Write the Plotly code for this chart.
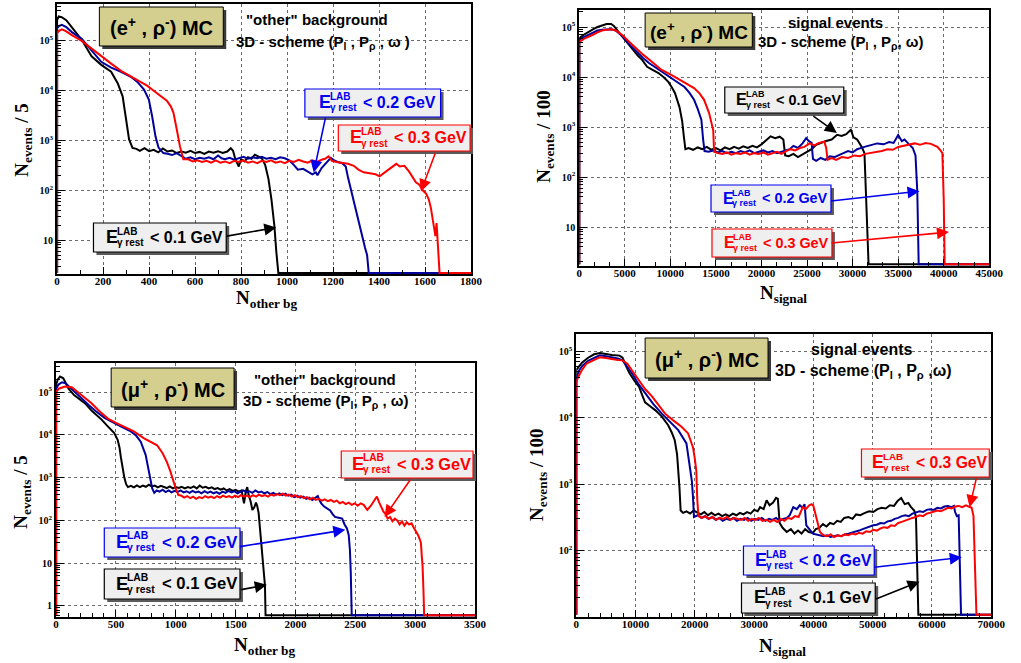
import math
import plotly.graph_objects as go

W, H = 1021, 663
SANS = "Liberation Sans"
SERIF = "Liberation Serif"

C_BLACK = "#000000"
C_BLUE = "#00009a"
C_RED = "#ff0000"
L_BLUE = "#0000ee"

# ---------------- (e+, rho-) "other" background, N_events / 5 ----------------
ebg_x_01 = [0, 0, 7, 20, 40, 64, 107, 150, 192, 235, 264, 285, 299, 313, 328, 345, 360, 380, 400, 420,
            440, 460, 480, 500, 520, 540, 560, 580, 600, 620, 640, 660, 680, 700, 720, 740, 755, 765, 775, 790,
            800, 815, 830, 845, 860, 875, 890, 905, 919, 932, 945, 953, 962, 1800]
ebg_n_01 = [2.2, 2.6e5, 3.1e5, 3.0e5, 2.6e5, 1.9e5, 1.05e5, 4.9e4, 3.3e4, 2.4e4, 1.4e4, 7.7e3, 3.1e3, 1.05e3, 710, 680, 620, 700, 610, 650,
            580, 690, 600, 630, 560, 600, 570, 620, 560, 590, 540, 600, 570, 610, 560, 600, 700, 620, 420, 300,
            420, 380, 460, 430, 520, 470, 440, 320, 170, 66, 19, 6, 2.2, 2.2]

ebg_x_02 = [0, 0, 10, 21, 40, 64, 107, 150, 192, 235, 278, 321, 349, 378, 399, 413, 428, 441, 462, 480,
            500, 520, 545, 560, 580, 600, 620, 640, 660, 680, 700, 715, 730, 750, 770, 790, 810, 830, 850, 870,
            890, 910, 930, 950, 970, 990, 1010, 1030, 1047, 1070, 1090, 1110, 1125, 1132, 1150, 1170, 1190, 1205, 1220, 1240,
            1255, 1265, 1274, 1285, 1297, 1308, 1318, 1328, 1339, 1348, 1355, 1800]
ebg_n_02 = [2.2, 1.8e5, 2.0e5, 2.1e5, 1.9e5, 1.5e5, 1.1e5, 6.5e4, 3.8e4, 2.9e4, 2.4e4, 1.9e4, 1.5e4, 1.05e4, 6.6e3, 3.1e3, 1.2e3, 720, 560, 540,
            510, 560, 470, 430, 460, 420, 450, 430, 460, 420, 500, 440, 420, 450, 410, 440, 470, 430, 460, 440,
            470, 430, 450, 420, 460, 440, 400, 320, 260, 270, 240, 210, 230, 200, 280, 360, 450, 400, 370, 350,
            300, 180, 120, 75, 48, 30, 19, 12, 7, 5, 2.2, 2.2]

ebg_x_03 = [0, 0, 10, 21, 40, 64, 107, 150, 192, 235, 278, 321, 363, 393, 420, 449, 477, 495, 506, 520,
            534, 549, 570, 590, 610, 630, 650, 670, 690, 710, 730, 750, 770, 790, 810, 830, 850, 870, 890, 910,
            930, 950, 970, 990, 1010, 1030, 1050, 1070, 1090, 1110, 1130, 1150, 1165, 1180, 1195, 1215, 1240, 1265, 1290, 1310,
            1333, 1360, 1385, 1402, 1420, 1440, 1460, 1475, 1490, 1510, 1530, 1545, 1560, 1575, 1590, 1605, 1616, 1625, 1632, 1640,
            1645, 1650, 1655, 1660, 1663, 1800]
ebg_n_03 = [2.2, 1.45e5, 1.6e5, 1.7e5, 1.55e5, 1.3e5, 1.0e5, 7e4, 4.8e4, 3.5e4, 2.5e4, 1.9e4, 1.5e4, 1.25e4, 1e4, 8e3, 6.3e3, 4.8e3, 3.6e3, 1.7e3,
            770, 420, 420, 380, 400, 370, 390, 360, 400, 360, 380, 350, 390, 370, 400, 360, 380, 350, 390, 370,
            400, 360, 380, 350, 390, 370, 410, 380, 360, 400, 370, 410, 430, 480, 390, 370, 360, 340, 310, 260,
            230, 220, 210, 190, 220, 260, 300, 340, 300, 310, 240, 190, 145, 130, 100, 85, 66, 45, 30, 16,
            12, 22, 8, 5, 2.2, 2.2]

# ---------------- (e+, rho-) signal events, N_events / 100 ----------------
esig_x_01 = [0, 0, 500, 1000, 1500, 2000, 2500, 3000, 3500, 3800, 4200, 4750, 5300, 5830, 6400, 6900, 7450, 8000, 8700, 9300,
             9800, 10200, 10500, 11000, 11300, 11500, 11650, 12000, 12500, 13000, 13500, 14000, 14500, 15000, 15500, 16000, 16500, 17000, 17500, 18000,
             18500, 19000, 19500, 20000, 20600, 21000, 21500, 22000, 22400, 22600, 23000, 23500, 24000, 24500, 25000, 25500, 26000, 26500, 27000, 27700,
             28300, 28800, 29300, 29800, 30100, 30500, 31000, 31300, 31450, 31600, 31750, 45000]
esig_n_01 = [1.8, 6e4, 7e4, 8e4, 9e4, 1e5, 1.08e5, 1.15e5, 1.15e5, 1.05e5, 8.5e4, 6.3e4, 4.8e4, 3.5e4, 2.7e4, 2.2e4, 1.6e4, 1.4e4, 1.2e4, 9.8e3,
             7.9e3, 6e3, 4.8e3, 2.5e3, 1.3e3, 600, 360, 380, 350, 390, 360, 400, 350, 380, 340, 390, 360, 400, 370, 410,
             380, 420, 390, 450, 560, 650, 600, 640, 560, 270, 260, 290, 250, 280, 310, 360, 440, 480, 520, 560,
             700, 660, 720, 880, 620, 560, 400, 300, 60, 10, 1.8, 1.8]

esig_x_02 = [0, 0, 500, 1000, 1500, 2000, 2500, 3000, 3500, 4000, 4750, 5500, 6300, 7000, 7650, 8700, 9400, 10100, 10800, 11550,
             12100, 12600, 13000, 13400, 13600, 13750, 14200, 14700, 15200, 15700, 16200, 16700, 17200, 17700, 18200, 18700, 19200, 19700, 20200, 20700,
             21200, 21700, 22200, 22700, 23100, 23500, 24000, 24500, 24900, 25200, 25500, 25650, 26000, 26500, 27000, 27500, 28000, 28800, 29500, 30000,
             30500, 31300, 32000, 32700, 33400, 34000, 34500, 35000, 35400, 35700, 36200, 36600, 36900, 37100, 37250, 45000]
esig_n_02 = [1.8, 5.5e4, 6.3e4, 7e4, 7.8e4, 8.5e4, 8.8e4, 9e4, 9e4, 8.5e4, 6.5e4, 4.5e4, 3.2e4, 2.4e4, 1.9e4, 1.4e4, 1.15e4, 9.5e3, 7.8e3, 6.3e3,
             4.8e3, 3.5e3, 2.3e3, 1.4e3, 550, 330, 320, 340, 310, 330, 300, 320, 300, 330, 310, 340, 300, 320, 340, 310,
             330, 300, 320, 340, 360, 420, 380, 470, 600, 520, 480, 230, 210, 240, 220, 260, 250, 290, 330, 310,
             360, 400, 430, 470, 450, 500, 480, 690, 520, 560, 450, 380, 270, 50, 1.8, 1.8]

esig_x_03 = [0, 0, 500, 1000, 1500, 2000, 2500, 3000, 3500, 4000, 4750, 5500, 6300, 7000, 8000, 9000, 10100, 10800, 11550, 12100,
             12600, 13200, 13700, 14250, 14500, 14700, 14800, 15200, 15700, 16200, 16700, 17200, 17700, 18200, 18700, 19200, 19700, 20200, 20700, 21200,
             21700, 22200, 22700, 23200, 23700, 24200, 24700, 25300, 25800, 26300, 26900, 27100, 27250, 27700, 28200, 28800, 29500, 30200, 30800, 31400,
             32000, 32600, 33200, 33800, 34400, 35000, 35600, 36200, 36800, 37400, 38000, 38600, 39000, 39300, 39600, 39850, 40000, 40100, 45000]
esig_n_03 = [1.8, 5e4, 5.8e4, 6.3e4, 7e4, 7.8e4, 8.5e4, 8.8e4, 9e4, 8.5e4, 6.8e4, 5e4, 3.6e4, 2.8e4, 2e4, 1.4e4, 1.1e4, 9.2e3, 7.9e3, 6.8e3,
             6e3, 4.7e3, 3.5e3, 1.9e3, 1.2e3, 870, 320, 300, 290, 310, 280, 300, 290, 310, 280, 300, 290, 310, 280, 300,
             320, 290, 330, 360, 340, 380, 400, 470, 430, 480, 510, 380, 220, 240, 220, 250, 240, 270, 260, 290,
             300, 320, 330, 360, 350, 400, 420, 450, 470, 440, 480, 460, 430, 400, 350, 300, 35, 1.8, 1.8]

# ---------------- (mu+, rho-) "other" background, N_events / 5 ----------------
mbg_x_01 = [0, 0, 15, 33, 60, 104, 150, 200, 240, 300, 340, 378, 430, 486, 515, 530, 541, 555, 570, 585,
            600, 625, 650, 675, 700, 725, 750, 775, 800, 825, 850, 875, 900, 925, 950, 975, 1000, 1025, 1050, 1075,
            1100, 1125, 1150, 1175, 1200, 1225, 1250, 1275, 1300, 1325, 1350, 1375, 1400, 1425, 1450, 1475, 1500, 1525, 1550, 1570,
            1585, 1597, 1610, 1625, 1640, 1655, 1670, 1680, 1692, 1705, 1720, 1735, 1745, 1750, 3500]
mbg_n_01 = [0.6, 1.5e5, 2e5, 2.3e5, 2.1e5, 1.2e5, 8.5e4, 6.5e4, 5.5e4, 3.6e4, 2.9e4, 2.3e4, 1.6e4, 1.1e4, 7.5e3, 5e3, 3e3, 1.6e3, 1e3, 700,
            600, 640, 590, 660, 600, 650, 610, 680, 620, 650, 590, 640, 600, 570, 620, 560, 600, 570, 610, 560,
            600, 570, 620, 560, 650, 580, 610, 560, 590, 540, 570, 520, 560, 500, 540, 490, 520, 470, 500, 250,
            480, 600, 380, 280, 175, 200, 260, 220, 150, 60, 25, 8.5, 3, 0.6, 0.6]

mbg_x_02 = [0, 0, 20, 49, 80, 157, 200, 272, 335, 405, 515, 624, 670, 707, 748, 775, 803, 820, 840, 865,
            890, 915, 940, 965, 990, 1015, 1040, 1065, 1090, 1115, 1140, 1165, 1190, 1215, 1240, 1265, 1290, 1315, 1340, 1365,
            1390, 1415, 1440, 1465, 1490, 1515, 1540, 1565, 1590, 1615, 1640, 1665, 1690, 1715, 1740, 1765, 1790, 1815, 1840, 1865,
            1890, 1915, 1940, 1965, 1990, 2015, 2040, 2065, 2090, 2115, 2140, 2165, 2186, 2200, 2215, 2240, 2270, 2290, 2310, 2330,
            2360, 2390, 2410, 2430, 2445, 2455, 2462, 2470, 3500]
mbg_n_02 = [0.6, 1.2e5, 1.5e5, 1.7e5, 1.6e5, 1e5, 7.5e4, 5e4, 3.5e4, 2.5e4, 1.7e4, 1.2e4, 9.5e3, 6.9e3, 3.4e3, 1.4e3, 560, 440, 500, 470,
            520, 460, 500, 450, 490, 460, 500, 450, 480, 440, 490, 450, 470, 430, 480, 440, 470, 430, 460, 420,
            470, 440, 490, 450, 480, 430, 470, 500, 450, 480, 440, 500, 450, 470, 430, 460, 410, 440, 400, 430,
            390, 420, 380, 400, 350, 380, 340, 360, 320, 340, 300, 330, 370, 300, 250, 210, 180, 170, 140, 120,
            115, 110, 80, 65, 45, 20, 6, 0.6, 0.6]

mbg_x_03 = [0, 0, 22, 75, 131, 200, 296, 360, 433, 500, 570, 650, 735, 844, 890, 926, 955, 981, 1000, 1022,
            1045, 1070, 1095, 1120, 1145, 1170, 1195, 1220, 1245, 1270, 1295, 1320, 1345, 1370, 1395, 1420, 1445, 1470, 1495, 1520,
            1545, 1570, 1595, 1620, 1645, 1670, 1695, 1720, 1745, 1770, 1795, 1820, 1845, 1870, 1895, 1920, 1945, 1970, 1995, 2020,
            2045, 2070, 2095, 2120, 2145, 2170, 2195, 2220, 2245, 2270, 2295, 2320, 2345, 2370, 2395, 2420, 2445, 2470, 2495, 2520,
            2545, 2570, 2600, 2630, 2660, 2680, 2700, 2720, 2735, 2750, 2770, 2790, 2810, 2830, 2850, 2870, 2890, 2910, 2930, 2950,
            2970, 2985, 3007, 3025, 3040, 3048, 3055, 3062, 3070, 3075, 3500]
mbg_n_03 = [0.6, 1e5, 1.2e5, 1.35e5, 1.3e5, 9e4, 5.5e4, 3.6e4, 2.4e4, 1.9e4, 1.55e4, 1.2e4, 8.3e3, 5.7e3, 3.7e3, 2.3e3, 1.4e3, 800, 550, 390,
            380, 340, 370, 330, 360, 320, 350, 330, 370, 340, 360, 330, 370, 340, 380, 350, 370, 340, 380, 350,
            390, 360, 380, 350, 390, 360, 400, 370, 390, 360, 400, 380, 410, 390, 420, 380, 400, 360, 390, 350,
            370, 330, 350, 310, 340, 300, 320, 290, 310, 280, 300, 270, 290, 250, 270, 240, 260, 230, 250, 220,
            250, 230, 175, 220, 300, 360, 260, 200, 160, 145, 110, 120, 95, 110, 100, 80, 95, 75, 90, 80,
            85, 70, 55, 45, 35, 30, 15, 8.5, 2, 0.6, 0.6]

# ---------------- (mu+, rho-) signal events, N_events / 100 ----------------
msig_x_01 = [0, 0, 500, 1000, 2000, 3000, 4000, 5000, 6000, 7300, 7800, 8400, 8960, 9800, 10600, 11100, 11600, 12400, 13300, 14400,
             15500, 16100, 16600, 17000, 17200, 17400, 17600, 18000, 18600, 19200, 19800, 20400, 21000, 21600, 22200, 22800, 23400, 24000, 24600, 25200,
             25800, 26400, 27000, 27600, 28200, 28800, 29400, 30000, 30600, 31000, 31600, 32100, 32600, 33200, 33700, 34000, 34300, 34800, 35500, 36200,
             36800, 37400, 38000, 38600, 39200, 39900, 40400, 41000, 41600, 42200, 42800, 43400, 44000, 44600, 45200, 45900, 46600, 47200, 47900, 48700,
             49400, 50100, 50800, 51500, 52200, 52900, 53600, 54200, 54800, 55400, 56000, 56400, 57000, 57300, 57500, 57700, 70000]
msig_n_01 = [10.8, 5.2e4, 6e4, 6.8e4, 8e4, 9e4, 9.4e4, 9e4, 8.8e4, 8.6e4, 8e4, 6e4, 4.7e4, 3.6e4, 2.9e4, 2.2e4, 1.7e4, 1.5e4, 1.3e4, 1.05e4,
             7.7e3, 6e3, 4.6e3, 2.8e3, 1.8e3, 900, 400, 370, 390, 360, 400, 370, 350, 380, 340, 370, 340, 360, 330, 350,
             330, 360, 340, 370, 350, 380, 360, 410, 390, 450, 420, 570, 480, 530, 620, 600, 260, 220, 190, 210,
             180, 200, 180, 210, 190, 185, 210, 220, 250, 230, 260, 250, 280, 270, 310, 320, 300, 350, 340, 370,
             390, 380, 420, 440, 430, 480, 470, 560, 620, 500, 520, 460, 400, 320, 30, 10.8, 10.8]

msig_x_02 = [0, 0, 500, 1000, 2000, 3000, 3930, 5000, 6000, 7000, 7800, 8500, 9450, 10500, 11660, 13000, 14430, 15800, 17200, 18580,
             19130, 19500, 19680, 19850, 20500, 21100, 21700, 22300, 22900, 23500, 24100, 24700, 25300, 25900, 26500, 27100, 27700, 28300, 28900, 29500,
             30100, 30700, 31300, 31900, 32500, 33100, 33700, 34300, 34900, 35500, 36000, 36600, 37200, 37700, 38200, 38500, 38800, 39400, 39900, 40500,
             41100, 41700, 42300, 42900, 43500, 44100, 44700, 45300, 45900, 46500, 47100, 47700, 48300, 48900, 49500, 50100, 50700, 51300, 51900, 52500,
             53100, 53700, 54300, 54900, 55500, 56100, 56700, 57300, 57900, 58500, 59100, 59700, 60300, 60900, 61500, 62100, 62700, 63300, 63700, 63900,
             64200, 64500, 64700, 64900, 70000]
msig_n_02 = [10.8, 4e4, 5.2e4, 6e4, 7.2e4, 8e4, 8.7e4, 8.4e4, 8.1e4, 7.8e4, 7.3e4, 6e4, 4.6e4, 3.2e4, 2.3e4, 1.6e4, 1.15e4, 8.8e3, 6.5e3, 4.1e3,
             2e3, 1.1e3, 650, 320, 340, 310, 330, 300, 320, 290, 310, 280, 300, 290, 310, 280, 300, 290, 310, 280,
             300, 290, 310, 280, 300, 290, 310, 280, 300, 310, 340, 450, 420, 480, 440, 500, 240, 200, 180, 175,
             170, 165, 170, 160, 165, 170, 165, 175, 180, 185, 195, 200, 210, 220, 225, 240, 245, 260, 255, 275,
             280, 300, 310, 330, 340, 330, 360, 370, 390, 380, 410, 420, 410, 440, 430, 460, 470, 450, 470, 380,
             330, 340, 50, 10.8, 10.8]

msig_x_03 = [0, 0, 330, 1000, 1710, 3000, 3930, 5000, 6000, 7000, 7800, 8620, 9500, 10560, 11600, 12770, 13800, 14980, 16300, 17750,
             18860, 19680, 20000, 20240, 20400, 20600, 21200, 21800, 22400, 23000, 23600, 24200, 24800, 25400, 26000, 26600, 27200, 27800, 28400, 29000,
             29600, 30200, 30800, 31400, 32100, 32700, 33300, 33900, 34500, 35100, 35700, 36300, 36900, 37500, 38200, 38700, 39300, 39700, 40000, 40400,
             40800, 41100, 41700, 42300, 42900, 43500, 44100, 44700, 45300, 45900, 46500, 47100, 47700, 48300, 48900, 49500, 50100, 50700, 51300, 51900,
             52500, 53100, 53700, 54300, 54900, 55500, 56100, 56700, 57300, 57900, 58500, 59100, 59700, 60300, 60900, 61500, 62100, 62700, 63300, 63900,
             64500, 65100, 65700, 66300, 66700, 67000, 67200, 67500, 70000]
msig_n_03 = [10.8, 3.5e4, 4.1e4, 5.3e4, 6.5e4, 7.5e4, 8.1e4, 7.9e4, 7.6e4, 7.4e4, 7.3e4, 6.5e4, 5e4, 3.7e4, 2.7e4, 2.1e4, 1.6e4, 1.15e4, 9.2e3, 7.3e3,
             5.8e3, 3.6e3, 2.4e3, 1.6e3, 600, 330, 310, 330, 300, 320, 290, 310, 300, 320, 290, 310, 300, 290, 310, 280,
             300, 290, 310, 280, 290, 270, 290, 270, 300, 280, 310, 300, 330, 320, 450, 420, 480, 500, 470, 330,
             230, 190, 170, 165, 175, 160, 170, 165, 175, 170, 180, 175, 185, 180, 195, 190, 205, 200, 215, 225,
             220, 240, 235, 260, 270, 285, 300, 310, 320, 340, 330, 360, 370, 380, 400, 390, 420, 440, 430, 460,
             470, 450, 480, 460, 440, 330, 100, 10.8, 10.8]

CUTS = ["0.1", "0.2", "0.3"]
COLORS = [C_BLACK, C_BLUE, C_RED]
LABEL_COLORS = [C_BLACK, L_BLUE, C_RED]

panels = [
    dict(series=[(ebg_x_01, ebg_n_01), (ebg_x_02, ebg_n_02), (ebg_x_03, ebg_n_03)],
         px=(55, 476), py=(4, 274), xmax=1800, xdt=200, xminor=100, yr=(0.32, 5.74),
         ymaj=[10, 1e2, 1e3, 1e4, 1e5]),
    dict(series=[(esig_x_01, esig_n_01), (esig_x_02, esig_n_02), (esig_x_03, esig_n_03)],
         px=(586, 1003), py=(10, 266), xmax=45000, xdt=5000, xminor=5000 / 3, yr=(0.22, 5.34),
         ymaj=[10, 1e2, 1e3, 1e4, 1e5]),
    dict(series=[(mbg_x_01, mbg_n_01), (mbg_x_02, mbg_n_02), (mbg_x_03, mbg_n_03)],
         px=(54, 480), py=(363, 617), xmax=3500, xdt=500, xminor=100, yr=(-0.26, 5.68),
         ymaj=[1, 10, 1e2, 1e3, 1e4, 1e5]),
    dict(series=[(msig_x_01, msig_n_01), (msig_x_02, msig_n_02), (msig_x_03, msig_n_03)],
         px=(583, 1005), py=(334, 617), xmax=70000, xdt=10000, xminor=2000, yr=(1.0, 5.26),
         ymaj=[1e2, 1e3, 1e4, 1e5]),
]


def power_label(v):
    k = int(round(math.log10(v)))
    if k == 0:
        return "1"
    if k == 1:
        return "10"
    return "10<sup>%d</sup>" % k


def minor_vals(lo, hi):
    out = []
    for k in range(int(math.floor(lo)) - 1, int(math.ceil(hi)) + 1):
        for d in range(2, 10):
            v = d * 10 ** k
            if lo <= math.log10(v) <= hi:
                out.append(v)
    return out


fig = go.Figure()
layout = dict(width=W, height=H, margin=dict(l=0, r=0, t=0, b=0),
              paper_bgcolor="white", plot_bgcolor="white", showlegend=False)

tick_font = dict(family=SERIF, size=11, color="black", weight="bold")

for i, p in enumerate(panels, start=1):
    sx = "" if i == 1 else str(i)
    for (xs, ns), col in zip(p["series"], COLORS):
        assert len(xs) == len(ns)
        fig.add_trace(go.Scatter(x=xs, y=ns, mode="lines", line=dict(color=col, width=2),
                                 xaxis="x" + sx, yaxis="y" + sx, hoverinfo="skip"))
    layout["xaxis" + sx] = dict(
        domain=[p["px"][0] / W, p["px"][1] / W], range=[0, p["xmax"]], anchor="y" + sx,
        tickmode="linear", tick0=0, dtick=p["xdt"], tickformat="d",
        ticks="inside", ticklen=7, tickwidth=1, tickcolor="black", ticklabelstandoff=-4,
        minor=dict(tickmode="linear", tick0=0, dtick=p["xminor"], ticks="inside", ticklen=4,
                   tickcolor="black", showgrid=False),
        showgrid=True, gridcolor="#6a6a6a", griddash="dot", gridwidth=1,
        showline=True, linecolor="black", linewidth=2, mirror=True,
        zeroline=False, tickfont=tick_font, fixedrange=True)
    lo, hi = p["yr"]
    layout["yaxis" + sx] = dict(
        type="log", domain=[1 - p["py"][1] / H, 1 - p["py"][0] / H], range=[lo, hi], anchor="x" + sx,
        tickmode="array", tickvals=p["ymaj"], ticktext=[power_label(v) for v in p["ymaj"]],
        ticks="inside", ticklen=8, tickwidth=1, tickcolor="black",
        minor=dict(tickmode="array", tickvals=minor_vals(lo, hi), ticks="inside", ticklen=4,
                   tickcolor="black", showgrid=False),
        showgrid=True, gridcolor="#6a6a6a", griddash="dot", gridwidth=1,
        showline=True, linecolor="black", linewidth=2, mirror=True,
        zeroline=False, tickfont=dict(family=SERIF, size=10, color="black", weight="bold"),
        fixedrange=True)

shapes = []
annotations = []


def rect(x0, y0, x1, y1, fill, line, lw=1.0, shadow="#4a4a4a"):
    if shadow:
        shapes.append(dict(type="rect", xref="paper", yref="paper",
                           x0=(x0 + 3) / W, x1=(x1 + 3) / W, y0=1 - (y1 + 3) / H, y1=1 - (y0 + 3) / H,
                           fillcolor=shadow, line=dict(width=0)))
    shapes.append(dict(type="rect", xref="paper", yref="paper",
                       x0=x0 / W, x1=x1 / W, y0=1 - y1 / H, y1=1 - y0 / H,
                       fillcolor=fill, line=dict(color=line, width=lw)))


def text(x, y, s, size, color="black", family=SANS, xanchor="center", angle=0):
    annotations.append(dict(xref="paper", yref="paper", x=x / W, y=1 - y / H, text=s,
                            showarrow=False, xanchor=xanchor, yanchor="middle", textangle=angle,
                            font=dict(family=family, size=size, color=color, weight="bold")))


def cut_label(box, cut, color, s=1.0):
    x0, y0, x1, y1 = box
    rect(x0, y0, x1, y1, "#efefef", color, lw=1.2, shadow="#5a5a5a")
    cx, cy = (x0 + x1) / 2, (y0 + y1) / 2
    gx = cx - 57 * s
    text(gx, cy - 1, "E", 18 * s, color, xanchor="left")
    text(gx + 11 * s, cy - 6.5 * s, "LAB", 10 * s, color, xanchor="left")
    text(gx + 11 * s, cy + 5 * s, "γ rest", 10 * s, color, xanchor="left")
    text(gx + 45 * s, cy - 0.5, "&lt; %s GeV" % cut, 16 * s, color, xanchor="left")


def arrow(panel, xv, nv, ax, ay, color):
    sx = "" if panel == 1 else str(panel)
    annotations.append(dict(xref="x" + sx, yref="y" + sx, x=xv, y=math.log10(nv), ax=ax, ay=ay,
                            axref="pixel", ayref="pixel", text="", showarrow=True,
                            arrowhead=2, arrowsize=1.5, arrowwidth=1.6, arrowcolor=color,
                            standoff=0, startstandoff=0))


# sample boxes
rect(98, 7, 224, 46, "#d4cf8f", "black", lw=1, shadow="#3a3a3a")
text(161, 27, "(e<sup>+</sup> , ρ<sup>-</sup>) MC", 20)
rect(653, 13, 762, 47, "#d4cf8f", "black", lw=1, shadow="#3a3a3a")
text(707.5, 30.5, "(e<sup>+</sup> , ρ<sup>-</sup>) MC", 19)
rect(110, 368, 235, 407, "#d4cf8f", "black", lw=1, shadow="#3a3a3a")
text(172.5, 388, "(μ<sup>+</sup> , ρ<sup>-</sup>) MC", 20)
rect(653, 338, 778, 378, "#d4cf8f", "black", lw=1, shadow="#3a3a3a")
text(715.5, 358.5, "(μ<sup>+</sup> , ρ<sup>-</sup>) MC", 20)

# description text
text(319, 19, "\"other\" background", 15)
text(325, 42, "3D - scheme (P<sub>l</sub> , P<sub>ρ</sub> , ω )", 15)
text(847, 23, "signal events", 15)
text(852, 42, "3D - scheme (P<sub>l</sub> , P<sub>ρ</sub>, ω)", 15)
text(327, 379, "\"other\" background", 15)
text(328, 401, "3D - scheme (P<sub>l</sub>, P<sub>ρ</sub> , ω)", 15)
text(873, 349, "signal events", 16)
text(875, 371, "3D - scheme (P<sub>l</sub> , P<sub>ρ</sub> ,ω)", 16)

# axis titles
text(20, 140, "N<sub>events</sub> / 5", 19, family=SERIF, angle=-90)
text(268, 299, "N<sub>other bg</sub>", 19, family=SERIF)
text(551, 137, "N<sub>events</sub> / 100", 19, family=SERIF, angle=-90)
text(794, 294, "N<sub>signal</sub>", 19, family=SERIF)
text(19, 492, "N<sub>events</sub> / 5", 19, family=SERIF, angle=-90)
text(266, 646, "N<sub>other bg</sub>", 19, family=SERIF)
text(544, 475, "N<sub>events</sub> / 100", 19, family=SERIF, angle=-90)
text(793, 647, "N<sub>signal</sub>", 19, family=SERIF)

# cut labels with arrows
cut_label((92, 223, 227, 252), CUTS[0], LABEL_COLORS[0])
cut_label((307, 89, 445, 117), CUTS[1], LABEL_COLORS[1])
cut_label((341, 125, 475, 151), CUTS[2], LABEL_COLORS[2])
arrow(1, 953, 18, -51, 9, LABEL_COLORS[0])
arrow(1, 1116, 229, 12, -56, LABEL_COLORS[1])
arrow(1, 1582, 95, 15, -40, LABEL_COLORS[2])

cut_label((734, 87, 855, 113), CUTS[0], LABEL_COLORS[0], 0.9)
cut_label((720, 185, 842, 212), CUTS[1], LABEL_COLORS[1], 0.9)
cut_label((721, 229, 843, 257), CUTS[2], LABEL_COLORS[2], 0.9)
arrow(2, 28270, 760, -25, -18, LABEL_COLORS[0])
arrow(2, 37340, 52, -90, 10, LABEL_COLORS[1])
arrow(2, 40570, 7.9, -119, 11, LABEL_COLORS[2])

cut_label((344, 451, 478, 478), CUTS[2], LABEL_COLORS[2], 1.02)
cut_label((103, 528, 241, 557), CUTS[1], LABEL_COLORS[1], 1.04)
cut_label((103, 569, 241, 599), CUTS[0], LABEL_COLORS[0], 1.04)
arrow(3, 2744, 120, 27, -39, LABEL_COLORS[2])
arrow(3, 2416, 60, -107, 17, LABEL_COLORS[1])
arrow(3, 1760, 3.1, -27, 5, LABEL_COLORS[0])

cut_label((873, 449, 1003, 477), CUTS[2], LABEL_COLORS[2], 0.98)
cut_label((753, 546, 886, 575), CUTS[1], LABEL_COLORS[1], 1.0)
cut_label((751, 583, 887, 613), CUTS[0], LABEL_COLORS[0], 1.0)
arrow(4, 66350, 450, 7, -30, LABEL_COLORS[2])
arrow(4, 65020, 79, -89, 10, LABEL_COLORS[1])
arrow(4, 57890, 34, -45, 18, LABEL_COLORS[0])

layout["shapes"] = shapes
layout["annotations"] = annotations
fig.update_layout(**layout)
fig.write_html("out.html")
